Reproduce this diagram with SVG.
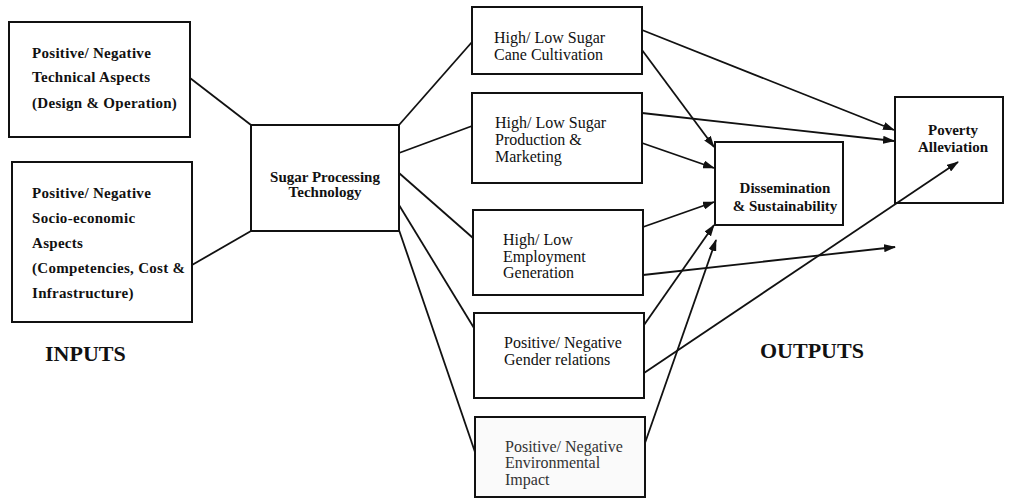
<svg xmlns="http://www.w3.org/2000/svg" width="1010" height="501" viewBox="0 0 1010 501">
<defs>
<marker id="ah" markerWidth="12" markerHeight="8" refX="11" refY="4" orient="auto" markerUnits="userSpaceOnUse">
<path d="M0,0 L12,4 L0,8 Z" fill="#111"/>
</marker>
<style>
.box{fill:#fff;stroke:#111;stroke-width:2}
.lt{font-family:"Liberation Serif",serif;font-size:15px;font-weight:bold;fill:#111;letter-spacing:0.3px}
.mt{font-family:"Liberation Serif",serif;font-size:16px;fill:#111}
.bt{font-family:"Liberation Serif",serif;font-size:15px;font-weight:bold;fill:#111;text-anchor:middle}
.big{font-family:"Liberation Serif",serif;font-size:22px;font-weight:bold;fill:#111}
.ln{stroke:#111;stroke-width:1.8;fill:none}
.ar{stroke:#111;stroke-width:1.8;fill:none;marker-end:url(#ah)}
</style>
</defs>
<rect width="1010" height="501" fill="#fff"/>
<g id="n-technical">
<rect class="box" x="9" y="22" width="181" height="115"/>
<text class="lt" x="32" y="58">Positive/ Negative</text>
<text class="lt" x="32" y="82">Technical Aspects</text>
<text class="lt" x="32" y="108">(Design &amp; Operation)</text>
</g>
<g id="n-socio">
<rect class="box" x="12" y="162" width="180" height="160"/>
<text class="lt" x="32" y="198">Positive/ Negative</text>
<text class="lt" x="32" y="223">Socio-economic</text>
<text class="lt" x="32" y="248">Aspects</text>
<text class="lt" x="32" y="273">(Competencies, Cost &amp;</text>
<text class="lt" x="32" y="298">Infrastructure)</text>
</g>
<g id="n-sugar">
<rect class="box" x="251" y="125" width="148" height="106"/>
<text class="bt" x="325" y="182">Sugar Processing</text>
<text class="bt" x="325" y="197">Technology</text>
</g>
<g id="n-cane">
<rect class="box" x="472" y="7" width="170" height="67"/>
<text class="mt" x="494" y="43">High/ Low Sugar</text>
<text class="mt" x="494" y="60">Cane Cultivation</text>
</g>
<g id="n-production">
<rect class="box" x="472" y="93" width="170" height="90"/>
<text class="mt" x="495" y="128">High/ Low Sugar</text>
<text class="mt" x="495" y="145">Production &amp;</text>
<text class="mt" x="495" y="162">Marketing</text>
</g>
<g id="n-employment">
<rect class="box" x="473" y="210" width="170" height="85"/>
<text class="mt" x="503" y="245">High/ Low</text>
<text class="mt" x="503" y="262">Employment</text>
<text class="mt" x="503" y="278">Generation</text>
</g>
<g id="n-gender">
<rect class="box" x="474" y="313" width="170" height="85"/>
<text class="mt" x="504" y="348">Positive/ Negative</text>
<text class="mt" x="504" y="365">Gender relations</text>
</g>
<g id="n-environment">
<rect class="box" x="475" y="417" width="170" height="80" style="fill:#fafafa"/>
<text class="mt" x="505" y="452" style="fill:#333">Positive/ Negative</text>
<text class="mt" x="505" y="468" style="fill:#333">Environmental</text>
<text class="mt" x="505" y="485" style="fill:#333">Impact</text>
</g>
<g id="n-dissemination">
<rect class="box" x="715" y="142" width="128" height="83"/>
<text class="bt" x="785" y="193">Dissemination</text>
<text class="bt" x="785" y="211">&amp; Sustainability</text>
</g>
<g id="n-poverty">
<rect class="box" x="895" y="97" width="108" height="106"/>
<text class="bt" x="953" y="135">Poverty</text>
<text class="bt" x="953" y="152">Alleviation</text>
</g>
<g id="connectors">
<line class="ln" x1="190" y1="78" x2="251" y2="125"/>
<line class="ln" x1="192" y1="265" x2="251" y2="231"/>
<line class="ln" x1="399" y1="125" x2="472" y2="42"/>
<line class="ln" x1="399" y1="153" x2="472" y2="126"/>
<line class="ln" x1="399" y1="173" x2="473" y2="238"/>
<line class="ln" x1="399" y1="205" x2="474" y2="328"/>
<line class="ln" x1="399" y1="230" x2="475" y2="452"/>
<line class="ar" x1="642" y1="30" x2="894" y2="130"/>
<line class="ar" x1="642" y1="50" x2="714" y2="147"/>
<line class="ar" x1="642" y1="113" x2="894" y2="141"/>
<line class="ar" x1="642" y1="143" x2="714" y2="168"/>
<line class="ar" x1="643" y1="227" x2="714" y2="202"/>
<line class="ar" x1="643" y1="275" x2="895" y2="247"/>
<line class="ar" x1="644" y1="325" x2="714" y2="225"/>
<line class="ar" x1="644" y1="373" x2="958" y2="162"/>
<line class="ar" x1="645" y1="443" x2="716" y2="240"/>
</g>
<g id="labels">
<text class="big" x="45" y="361">INPUTS</text>
<text class="big" x="760" y="358">OUTPUTS</text>
</g>
</svg>
